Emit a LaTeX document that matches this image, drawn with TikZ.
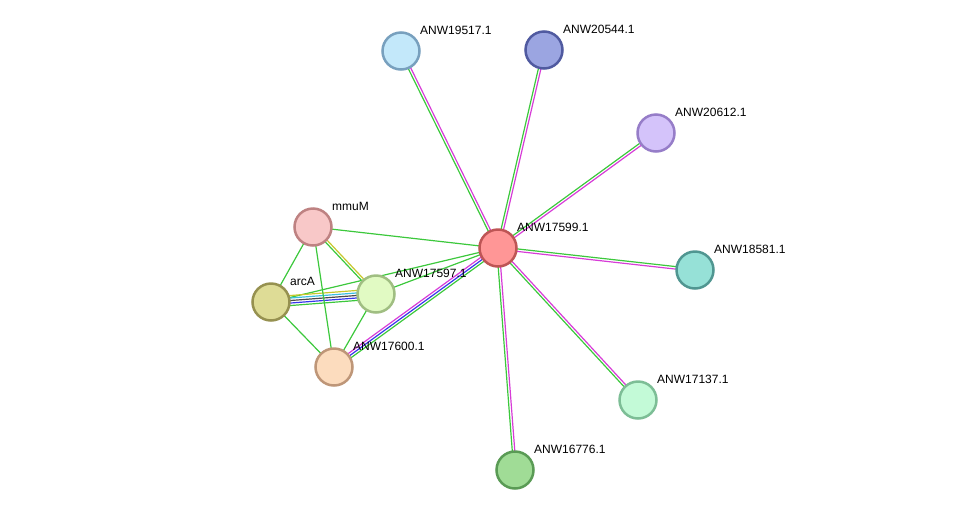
\documentclass[tikz,border=0pt]{standalone}
\usepackage{fontspec}
\setmainfont{Liberation Sans}
\usepackage{xcolor}
\usetikzlibrary{calc,positioning}
\pgfdeclarelayer{background}
\pgfsetlayers{background,main}

\definecolor{greenE}{RGB}{60,200,60}
\definecolor{magentaE}{RGB}{215,60,215}
\definecolor{blueE}{RGB}{55,55,235}
\definecolor{cyanE}{RGB}{60,190,225}
\definecolor{grayE}{RGB}{75,75,75}
\definecolor{yellowE}{RGB}{200,200,45}

\newcommand{\link}[3]{\foreach \col/\off in {#3} {\draw[edge,\col] ($(#1)!\off!90:(#2)$) -- ($(#2)!\off!-90:(#1)$);}}

\begin{document}
\begin{tikzpicture}[x=1pt, y=-1pt,
  prot/.style={draw, circle, line width=2.5pt, minimum size=37pt, inner sep=0pt},
  lbl/.style={anchor=west, inner sep=0pt, text=black, font=\fontsize{12}{14}\selectfont},
  edge/.style={line width=1.2pt}]
\def\lx{19}
\def\ly{-21}
\useasboundingbox (0,0) rectangle (975,515);

\node[prot, fill={rgb,255:red,255;green,150;blue,150}, draw={rgb,255:red,190;green,85;blue,85}] (n17599) at (498,248) {};
\node[prot, fill={rgb,255:red,195;green,232;blue,250}, draw={rgb,255:red,120;green,160;blue,190}] (n19517) at (401,51) {};
\node[prot, fill={rgb,255:red,155;green,165;blue,225}, draw={rgb,255:red,80;green,90;blue,160}] (n20544) at (544,50) {};
\node[prot, fill={rgb,255:red,212;green,195;blue,250}, draw={rgb,255:red,150;green,125;blue,200}] (n20612) at (656,133) {};
\node[prot, fill={rgb,255:red,150;green,225;blue,215}, draw={rgb,255:red,80;green,150;blue,145}] (n18581) at (695,270) {};
\node[prot, fill={rgb,255:red,195;green,250;blue,215}, draw={rgb,255:red,125;green,190;blue,150}] (n17137) at (638,400) {};
\node[prot, fill={rgb,255:red,160;green,220;blue,150}, draw={rgb,255:red,90;green,155;blue,85}] (n16776) at (515,470) {};
\node[prot, fill={rgb,255:red,248;green,200;blue,200}, draw={rgb,255:red,190;green,130;blue,130}] (mmuM) at (313,227) {};
\node[prot, fill={rgb,255:red,222;green,220;blue,150}, draw={rgb,255:red,150;green,145;blue,80}] (arcA) at (271,302) {};
\node[prot, fill={rgb,255:red,225;green,250;blue,195}, draw={rgb,255:red,160;green,190;blue,130}] (n17597) at (376,294) {};
\node[prot, fill={rgb,255:red,252;green,220;blue,190}, draw={rgb,255:red,190;green,150;blue,120}] (n17600) at (334,367) {};

\node[lbl] (l17599) at ($(n17599)+(\lx,\ly)$) {ANW17599.1};
\node[lbl] (l19517) at ($(n19517)+(\lx,\ly)$) {ANW19517.1};
\node[lbl] (l20544) at ($(n20544)+(\lx,\ly)$) {ANW20544.1};
\node[lbl] (l20612) at ($(n20612)+(\lx,\ly)$) {ANW20612.1};
\node[lbl] (l18581) at ($(n18581)+(\lx,\ly)$) {ANW18581.1};
\node[lbl] (l17137) at ($(n17137)+(\lx,\ly)$) {ANW17137.1};
\node[lbl] (l16776) at ($(n16776)+(\lx,\ly)$) {ANW16776.1};
\node[lbl] (lmmuM) at ($(mmuM)+(\lx,\ly)$) {mmuM};
\node[lbl] (larcA) at ($(arcA)+(\lx,\ly)$) {arcA};
\node[lbl] (l17597) at ($(n17597)+(\lx,\ly)$) {ANW17597.1};
\node[lbl] (l17600) at ($(n17600)+(\lx,\ly)$) {ANW17600.1};

\begin{pgfonlayer}{background}
\link{n17599}{n19517}{greenE/1.25pt, magentaE/-1.25pt}
\link{n17599}{n20544}{greenE/1.25pt, magentaE/-1.25pt}
\link{n17599}{n20612}{greenE/1.25pt, magentaE/-1.25pt}
\link{n17599}{n18581}{greenE/1.25pt, magentaE/-1.25pt}
\link{n17137}{n17599}{greenE/1.25pt, magentaE/-1.25pt}
\link{n16776}{n17599}{greenE/1.25pt, magentaE/-1.25pt}
\link{n17599}{n17600}{magentaE/-2.5pt, blueE/0pt, greenE/2.5pt}
\link{n17599}{mmuM}{greenE/0pt}
\link{n17599}{n17597}{greenE/0pt}
\link{n17599}{arcA}{greenE/0pt}
\link{arcA}{n17597}{yellowE/5pt, cyanE/2.5pt, grayE/0pt, blueE/-2.5pt, greenE/-5pt}
\link{mmuM}{n17597}{yellowE/1.25pt, greenE/-1.25pt}
\link{mmuM}{arcA}{greenE/0pt}
\link{mmuM}{n17600}{greenE/0pt}
\link{arcA}{n17600}{greenE/0pt}
\link{n17597}{n17600}{greenE/0pt}
\end{pgfonlayer}
\end{tikzpicture}
\end{document}
